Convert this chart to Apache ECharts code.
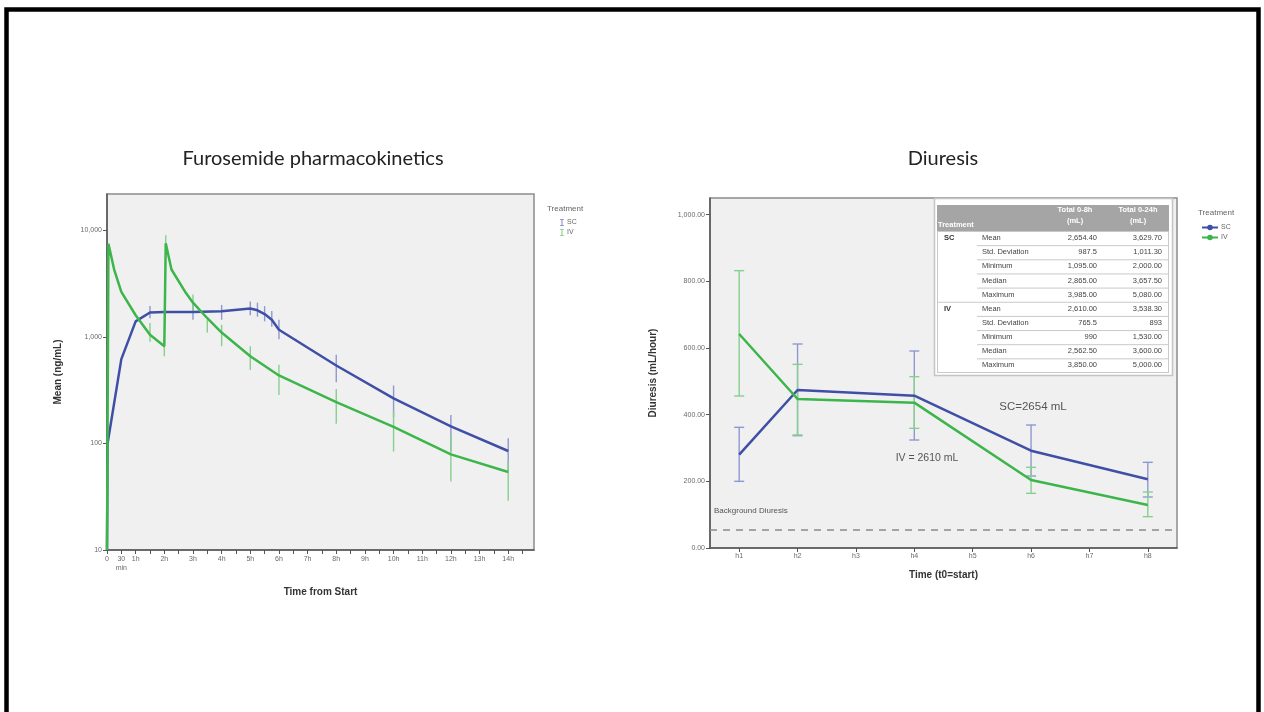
<!DOCTYPE html>
<html><head><meta charset="utf-8">
<script src="https://cdn.jsdelivr.net/npm/echarts@6.0.0/dist/echarts.min.js"></script>
<style>html,body{margin:0;padding:0;background:#fff}#c{width:1264px;height:712px}</style>
</head><body><div id="c"></div>
<script>
// ---------- Data: Furosemide pharmacokinetics (ng/mL) ----------
const pkScTimes  = [0, 0.02, 0.5, 1, 1.5, 2, 3, 4, 5, 5.25, 5.5, 5.75, 6, 8, 10, 12, 14];
const pkScValues = [10, 100, 620, 1400, 1700, 1720, 1720, 1740, 1850, 1780, 1640, 1450, 1170, 540, 265, 145, 85];
const pkIvTimes  = [0, 0.05, 0.25, 0.5, 1, 1.5, 2, 2.05, 2.25, 2.75, 3, 3.5, 4, 5, 6, 8, 10, 12, 14];
const pkIvValues = [10, 7500, 4300, 2650, 1600, 1050, 820, 7600, 4300, 2600, 2100, 1500, 1100, 660, 435, 245, 143, 79, 54];
const pkScErrTimes = [1.5, 3, 4, 5, 5.25, 5.5, 5.75, 6, 8, 10, 12, 14];
const pkScErrLow   = [1500, 1450, 1450, 1600, 1550, 1400, 1250, 950, 375, 177, 84, 55];
const pkScErrHigh  = [1950, 2100, 2000, 2150, 2100, 1950, 1750, 1450, 680, 350, 185, 112];
const pkIvErrTimes = [1.5, 2, 2.05, 3, 3.5, 4, 5, 6, 8, 10, 12, 14];
const pkIvErrLow   = [900, 660, 6500, 1700, 1100, 820, 490, 285, 153, 84, 44, 29];
const pkIvErrHigh  = [1350, 1000, 9000, 2500, 1450, 1300, 820, 550, 325, 207, 121, 68];
const pkYTicks = [10, 100, 1000, 10000];

// ---------- Data: Diuresis (mL/hour) ----------
const hours = ['h1', 'h2', 'h3', 'h4', 'h5', 'h6', 'h7', 'h8'];
const diuSc = [280, 474, null, 457, null, 292, null, 206];
const diuIv = [642, 447, null, 436, null, 204, null, 129];
const diuScLow  = [200, 337, null, 324, null, 216, null, 153];
const diuScHigh = [362, 612, null, 591, null, 369, null, 257];
const diuIvLow  = [456, 339, null, 359, null, 164, null, 94];
const diuIvHigh = [832, 551, null, 514, null, 242, null, 168];
const backgroundDiuresis = 55;
const scTotalLabel = 'SC=2654 mL';
const ivTotalLabel = 'IV = 2610 mL';

// ---------- Table ----------
const tableHeadTreatment = 'Treatment';
const tableHeadCols = [['Total 0-8h', '(mL)'], ['Total 0-24h', '(mL)']];
const tableGroups = ['SC', 'IV'];
const tableStats = ['Mean', 'Std. Deviation', 'Minimum', 'Median', 'Maximum'];
const total08  = ['2,654.40', '987.5', '1,095.00', '2,865.00', '3,985.00', '2,610.00', '765.5', '990', '2,562.50', '3,850.00'];
const total024 = ['3,629.70', '1,011.30', '2,000.00', '3,657.50', '5,080.00', '3,538.30', '893', '1,530.00', '3,600.00', '5,000.00'];

const BLUE = '#3f4fa6', GREEN = '#3cb54a';
const BLUE_L = '#8e98d0', GREEN_L = '#86cf8f';
const LBL = {fontFamily: 'Liberation Sans', fontSize: 7, color: '#6a6a6a'};
const NAME = {fontFamily: 'Liberation Sans', fontSize: 10, fontWeight: 'bold', color: '#333'};

function errSeries(name, xi, yi, xs, lows, highs, color, cap) {
  const data = [];
  xs.forEach((x, i) => { if (lows[i] != null) data.push([x, lows[i], highs[i]]); });
  return {
    type: 'custom', name, xAxisIndex: xi, yAxisIndex: yi, silent: true, z: 3,
    data, encode: {x: 0, y: [1, 2]},
    renderItem(params, api) {
      const a = api.coord([api.value(0), api.value(1)]);
      const b = api.coord([api.value(0), api.value(2)]);
      const st = {stroke: color, lineWidth: 1.4};
      const ch = [{type: 'line', shape: {x1: a[0], y1: a[1], x2: b[0], y2: b[1]}, style: st}];
      if (cap) {
        ch.push({type: 'line', shape: {x1: a[0] - cap, y1: a[1], x2: a[0] + cap, y2: a[1]}, style: st});
        ch.push({type: 'line', shape: {x1: b[0] - cap, y1: b[1], x2: b[0] + cap, y2: b[1]}, style: st});
      }
      return {type: 'group', children: ch};
    }
  };
}

// table graphic built from arrays
function buildTable() {
  const els = [];
  const x0 = 937, x1 = 1169, hy0 = 205, hy1 = 231, rh = 14.15;
  const colR = [1097, 1162], colC = [1075, 1138];
  els.push({type: 'rect', shape: {x: 934.5, y: 198.5, width: 238, height: 177}, style: {fill: '#fff', stroke: '#c4c4c4', lineWidth: 1.5}, z: 10});
  els.push({type: 'rect', shape: {x: x0, y: hy0, width: x1 - x0, height: hy1 - hy0}, style: {fill: '#a5a5a5'}, z: 11});
  els.push({type: 'text', x: x0 + 1, y: hy1 - 2, style: {text: tableHeadTreatment, fill: '#fff', font: 'bold 7.5px "Liberation Sans"', textVerticalAlign: 'bottom'}, z: 12});
  tableHeadCols.forEach((c, j) => {
    els.push({type: 'text', x: colC[j], y: hy0 + 5, style: {text: c[0], fill: '#fff', font: 'bold 7.5px "Liberation Sans"', textAlign: 'center', textVerticalAlign: 'middle'}, z: 12});
    els.push({type: 'text', x: colC[j], y: hy0 + 16, style: {text: c[1], fill: '#fff', font: 'bold 7.5px "Liberation Sans"', textAlign: 'center', textVerticalAlign: 'middle'}, z: 12});
  });
  const n = tableGroups.length * tableStats.length;
  for (let r = 0; r < n; r++) {
    const yt = hy1 + r * rh;
    const first = r % tableStats.length === 0;
    const lx = first ? x0 : 977;
    els.push({type: 'line', shape: {x1: lx, y1: yt + 0.5, x2: x1, y2: yt + 0.5}, style: {stroke: '#c9c9c9', lineWidth: 1}, z: 11});
    const yc = yt + rh / 2;
    if (first) els.push({type: 'text', x: 944, y: yc, style: {text: tableGroups[r / tableStats.length], fill: '#333', font: 'bold 7.5px "Liberation Sans"', textVerticalAlign: 'middle'}, z: 12});
    els.push({type: 'text', x: 982, y: yc, style: {text: tableStats[r % tableStats.length], fill: '#444', font: '7.5px "Liberation Sans"', textVerticalAlign: 'middle'}, z: 12});
    els.push({type: 'text', x: colR[0], y: yc, style: {text: total08[r], fill: '#444', font: '7.5px "Liberation Sans"', textAlign: 'right', textVerticalAlign: 'middle'}, z: 12});
    els.push({type: 'text', x: colR[1], y: yc, style: {text: total024[r], fill: '#444', font: '7.5px "Liberation Sans"', textAlign: 'right', textVerticalAlign: 'middle'}, z: 12});
  }
  const yb = hy1 + n * rh;
  els.push({type: 'line', shape: {x1: x0, y1: yb, x2: x1, y2: yb}, style: {stroke: '#c9c9c9', lineWidth: 1}, z: 11});
  els.push({type: 'line', shape: {x1: x0 + 0.5, y1: hy1, x2: x0 + 0.5, y2: yb}, style: {stroke: '#c9c9c9', lineWidth: 1}, z: 11});
  els.push({type: 'line', shape: {x1: x1 - 0.5, y1: hy1, x2: x1 - 0.5, y2: yb}, style: {stroke: '#c9c9c9', lineWidth: 1}, z: 11});
  return els;
}

const chart = echarts.init(document.getElementById('c'), null, {renderer: 'canvas'});
const option = {
  backgroundColor: '#fff',
  animation: false,
  title: [
    {text: 'Furosemide pharmacokinetics', left: 308, top: 144, textAlign: 'center', textStyle: {fontFamily: 'Lato', fontSize: 20, fontWeight: 'normal', color: '#222'}},
    {text: 'Diuresis', left: 938, top: 144, textAlign: 'center', textStyle: {fontFamily: 'Lato', fontSize: 20, fontWeight: 'normal', color: '#222'}},
    {text: 'Treatment', left: 542, top: 200, textStyle: {fontFamily: 'Liberation Sans', fontSize: 8, fontWeight: 'normal', color: '#666'}},
    {text: 'Treatment', left: 1193, top: 204, textStyle: {fontFamily: 'Liberation Sans', fontSize: 8, fontWeight: 'normal', color: '#666'}}
  ],
  legend: [
    {data: ['SC', 'IV'], orient: 'vertical', left: 555, top: 214, itemWidth: 4, itemHeight: 8, itemGap: 3,
     icon: 'path://M0,0H6V1H3.5V9H6V10H0V9H2.5V1H0Z', textStyle: {fontFamily: 'Liberation Sans', fontSize: 7, color: '#666', padding: [0, 0, 0, -2]}},
    {data: ['SC ', 'IV '], orient: 'vertical', left: 1196, top: 219, itemWidth: 16, itemHeight: 7, itemGap: 3,
     formatter: s => s.trim(), textStyle: {fontFamily: 'Liberation Sans', fontSize: 7, color: '#666', padding: [0, 0, 0, -2]}}
  ],
  grid: [
    {left: 107, top: 194, width: 427, height: 356, show: true, backgroundColor: '#f0f0f0', borderColor: '#8c8c8c', borderWidth: 1.5},
    {left: 710, top: 198, width: 467, height: 350, show: true, backgroundColor: '#f0f0f0', borderColor: '#8c8c8c', borderWidth: 1.5}
  ],
  xAxis: [
    {gridIndex: 0, type: 'value', min: 0, max: 14.9, interval: 0.5,
     axisLine: {show: true, onZero: false, lineStyle: {color: '#555', width: 1.5}},
     axisTick: {show: true, length: 4, lineStyle: {color: '#555'}}, splitLine: {show: false},
     axisLabel: Object.assign({}, LBL, {margin: 5, showMaxLabel: false, lineHeight: 9,
       formatter: v => v === 0 ? '0' : (Math.abs(v - 0.5) < 1e-9 ? '30\nmin' : (Number.isInteger(v) ? v + 'h' : ''))}),
     name: 'Time from Start', nameLocation: 'middle', nameGap: 37, nameTextStyle: NAME},
    {gridIndex: 1, type: 'category', data: hours, boundaryGap: true,
     axisLine: {show: true, lineStyle: {color: '#555', width: 1.5}},
     axisTick: {show: true, alignWithLabel: true, length: 4, lineStyle: {color: '#555'}},
     axisLabel: Object.assign({}, LBL, {margin: 5}),
     name: 'Time (t0=start)', nameLocation: 'middle', nameGap: 22, nameTextStyle: NAME}
  ],
  yAxis: [
    {gridIndex: 0, type: 'log', logBase: 10, min: 10, max: 22000,
     axisLine: {show: true, lineStyle: {color: '#555', width: 1.5}},
     axisTick: {show: true, length: 4, lineStyle: {color: '#555'}}, splitLine: {show: false}, minorTick: {show: false},
     axisLabel: Object.assign({}, LBL, {margin: 5, showMaxLabel: false, formatter: v => pkYTicks.indexOf(Math.round(v)) >= 0 ? Math.round(v).toLocaleString('en-US') : ''}),
     name: 'Mean (ng/mL)', nameLocation: 'middle', nameGap: 44, nameTextStyle: NAME},
    {gridIndex: 1, type: 'value', min: 0, max: 1050, interval: 200,
     axisLine: {show: true, lineStyle: {color: '#555', width: 1.5}},
     axisTick: {show: true, length: 4, lineStyle: {color: '#555'}}, splitLine: {show: false},
     axisLabel: Object.assign({}, LBL, {margin: 5, showMaxLabel: false, formatter: v => v.toLocaleString('en-US', {minimumFractionDigits: 2, maximumFractionDigits: 2})}),
     name: 'Diuresis (mL/hour)', nameLocation: 'middle', nameGap: 52, nameTextStyle: NAME}
  ],
  series: [
    errSeries('SC err', 0, 0, pkScErrTimes, pkScErrLow, pkScErrHigh, BLUE_L, 0),
    errSeries('IV err', 0, 0, pkIvErrTimes, pkIvErrLow, pkIvErrHigh, GREEN_L, 0),
    {name: 'SC', type: 'line', xAxisIndex: 0, yAxisIndex: 0, data: pkScTimes.map((t, i) => [t, pkScValues[i]]),
     showSymbol: false, symbol: 'none', color: BLUE, lineStyle: {width: 2.5, color: BLUE}, z: 4},
    {name: 'IV', type: 'line', xAxisIndex: 0, yAxisIndex: 0, data: pkIvTimes.map((t, i) => [t, pkIvValues[i]]),
     showSymbol: false, symbol: 'none', color: GREEN, lineStyle: {width: 2.5, color: GREEN}, z: 5},
    errSeries('SC err ', 1, 1, hours, diuScLow, diuScHigh, BLUE_L, 5),
    errSeries('IV err ', 1, 1, hours, diuIvLow, diuIvHigh, GREEN_L, 5),
    {name: 'SC ', type: 'line', xAxisIndex: 1, yAxisIndex: 1, data: diuSc, connectNulls: true,
     symbol: 'circle', symbolSize: 7, showSymbol: false, color: BLUE, lineStyle: {width: 2.5, color: BLUE}, z: 4,
     markLine: {silent: true, symbol: ['none', 'none'], label: {show: false},
       lineStyle: {type: [7, 6], color: '#8a8a8a', width: 1.5}, data: [{yAxis: backgroundDiuresis}]}},
    {name: 'IV ', type: 'line', xAxisIndex: 1, yAxisIndex: 1, data: diuIv, connectNulls: true,
     symbol: 'circle', symbolSize: 7, showSymbol: false, color: GREEN, lineStyle: {width: 2.5, color: GREEN}, z: 5}
  ],
  graphic: [
    {type: 'rect', shape: {x: 6.5, y: 9.5, width: 1252, height: 760}, style: {fill: 'none', stroke: '#000', lineWidth: 4.5}, z: 100},
    {type: 'text', x: 714, y: 511, style: {text: 'Background Diuresis', fill: '#555', font: '8px "Liberation Sans"', textVerticalAlign: 'middle'}, z: 20},
    {type: 'text', x: 1033, y: 407, style: {text: scTotalLabel, fill: '#555', font: '11.5px "Liberation Sans"', textAlign: 'center', textVerticalAlign: 'middle'}, z: 20},
    {type: 'text', x: 927, y: 458, style: {text: ivTotalLabel, fill: '#555', font: '10.5px "Liberation Sans"', textAlign: 'center', textVerticalAlign: 'middle'}, z: 20}
  ].concat(buildTable())
};
chart.setOption(option);
</script></body></html>
